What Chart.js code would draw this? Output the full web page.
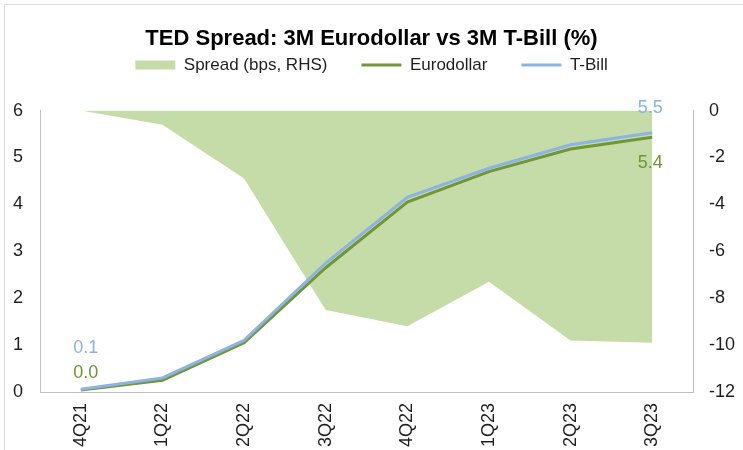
<!DOCTYPE html>
<html>
<head>
<meta charset="utf-8">
<script src="https://cdn.jsdelivr.net/npm/chart.js@4/dist/chart.umd.min.js"></script>
<style>
    body { margin: 0; background: #fff; }
    #wrap { position: relative; width: 743px; height: 450px; }
    #frame {
        position: absolute; left: 4px; top: 4px; right: 0; bottom: 0;
        border-left: 1px solid #d9d9d9; border-top: 1px solid #d9d9d9;
        pointer-events: none;
    }
    canvas { position: absolute; left: 0; top: 0; }
</style>
</head>
<body>
<div id="wrap">
    <canvas id="tedChart" width="743" height="450"></canvas>
    <div id="frame"></div>
</div>
<script>
const quarters = ['4Q21', '1Q22', '2Q22', '3Q22', '4Q22', '1Q23', '2Q23', '3Q23'];
const spreadBps = [0, -0.6, -2.9, -8.5, -9.2, -7.3, -9.8, -9.9];
const eurodollar = [0.04, 0.25, 1.05, 2.65, 4.05, 4.7, 5.18, 5.43];
const tBill = [0.06, 0.3, 1.1, 2.75, 4.15, 4.77, 5.27, 5.53];

const FONT = "'Liberation Sans', Arial, sans-serif";
const TEXT = '#1f1f1f';
const AREA = '#c5dca9';
const GREEN = '#6f9637';
const BLUE = '#8db3e2';
const AXIS = '#bfbfbf';

// value labels at the first and last quarter of each rate line
const valueLabels = [
    { dataset: 2, index: 0, dx: 5, dy: -41 },
    { dataset: 1, index: 0, dx: 5, dy: -17 },
    { dataset: 2, index: 7, dx: -2, dy: -25 },
    { dataset: 1, index: 7, dx: -2, dy: 26 }
];

const valueLabelPlugin = {
    id: 'valueLabels',
    afterDatasetsDraw(chart) {
        const ctx = chart.ctx;
        ctx.save();
        ctx.font = '18px ' + FONT;
        ctx.textAlign = 'center';
        ctx.textBaseline = 'middle';
        valueLabels.forEach(l => {
            const ds = chart.data.datasets[l.dataset];
            const pt = chart.getDatasetMeta(l.dataset).data[l.index];
            ctx.fillStyle = ds.borderColor;
            ctx.fillText(ds.data[l.index].toFixed(1), pt.x + l.dx, pt.y + l.dy);
        });
        ctx.restore();
    }
};

const ctx = document.getElementById('tedChart').getContext('2d');
new Chart(ctx, {
    type: 'line',
    data: {
        labels: quarters,
        datasets: [
            {
                label: 'Spread (bps, RHS)',
                data: spreadBps,
                yAxisID: 'y1',
                backgroundColor: AREA,
                borderColor: AREA,
                borderWidth: 0,
                pointRadius: 0,
                fill: 'origin',
                order: 3
            },
            {
                label: 'Eurodollar',
                data: eurodollar,
                yAxisID: 'y',
                borderColor: GREEN,
                backgroundColor: GREEN,
                borderWidth: 3,
                pointRadius: 0,
                fill: false,
                order: 2
            },
            {
                label: 'T-Bill',
                data: tBill,
                yAxisID: 'y',
                borderColor: BLUE,
                backgroundColor: BLUE,
                borderWidth: 3,
                pointRadius: 0,
                fill: false,
                order: 1
            }
        ]
    },
    options: {
        responsive: false,
        animation: false,
        layout: { padding: 0 },
        plugins: {
            title: {
                display: true,
                text: 'TED Spread: 3M Eurodollar vs 3M T-Bill (%)',
                color: '#000',
                font: { family: FONT, size: 22, weight: 'bold' },
                // negative bottom pulls the legend up under the title
                padding: { top: 26, bottom: -30 }
            },
            // empty spacer between the legend and the plot
            subtitle: {
                display: true,
                text: '',
                weight: 500,
                font: { size: 1 },
                padding: { top: 0, bottom: 26 }
            },
            legend: {
                display: true,
                labels: {
                    color: TEXT,
                    font: { family: FONT, size: 17 },
                    usePointStyle: true,
                    pointStyleWidth: 40,
                    boxHeight: 9,
                    padding: 34,
                    generateLabels(chart) {
                        return chart.data.datasets.map((ds, i) => ({
                            text: ds.label,
                            datasetIndex: i,
                            fillStyle: ds.backgroundColor,
                            strokeStyle: ds.borderColor,
                            lineWidth: i === 0 ? 0 : 3,
                            pointStyle: i === 0 ? 'rect' : 'line',
                            fontColor: TEXT,
                            hidden: false
                        }));
                    }
                }
            },
            tooltip: { enabled: false }
        },
        scales: {
            x: {
                offset: true,
                grid: { display: false, drawTicks: false },
                border: { display: true, color: AXIS, width: 1 },
                ticks: {
                    color: TEXT,
                    font: { family: FONT, size: 18 },
                    minRotation: 90,
                    maxRotation: 90,
                    padding: 11,
                    autoSkip: false
                },
                afterFit(scale) { scale.height = 58; }
            },
            y: {
                position: 'left',
                min: 0,
                max: 6,
                grid: { display: false, drawTicks: false },
                border: { display: true, color: AXIS, width: 1 },
                ticks: {
                    stepSize: 1,
                    color: TEXT,
                    font: { family: FONT, size: 18 },
                    padding: 17
                },
                afterFit(scale) { scale.width = 40; }
            },
            y1: {
                position: 'right',
                min: -12,
                max: 0,
                grid: { display: false, drawTicks: false },
                border: { display: true, color: AXIS, width: 1 },
                ticks: {
                    stepSize: 2,
                    color: TEXT,
                    font: { family: FONT, size: 18 },
                    padding: 16
                },
                afterFit(scale) { scale.width = 50; }
            }
        }
    },
    plugins: [valueLabelPlugin]
});
</script>
</body>
</html>
